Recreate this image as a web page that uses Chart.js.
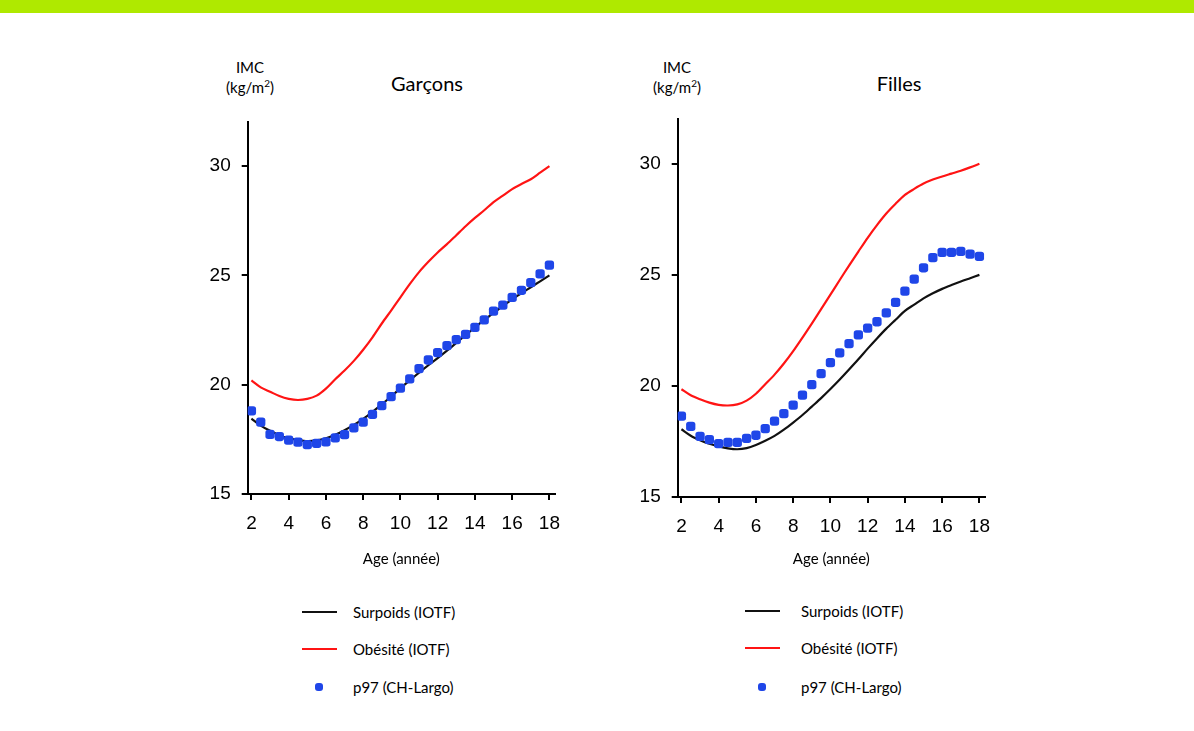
<!DOCTYPE html>
<html lang="fr">
<head>
<meta charset="utf-8">
<title>IMC - Garçons / Filles</title>
<script src="https://cdn.jsdelivr.net/npm/chart.js@4.4.1/dist/chart.umd.min.js"></script>
<style>
  body { margin: 0; width: 1194px; height: 731px; background: #fff; position: relative; overflow: hidden; font-family: Lato, "Open Sans", sans-serif; color: #000; }
  #bandeau { position: absolute; left: 0; top: 0; width: 1194px; height: 13px; background: #afe900; }
  canvas { position: absolute; }
  .imc { position: absolute; width: 80px; text-align: center; font-size: 15px; line-height: 20px; }
  .titre { position: absolute; font-size: 20px; line-height: 24px; transform: translateX(-50%); white-space: nowrap; }
  .legende { position: absolute; font-size: 15px; }
  .item { position: absolute; left: 0; height: 20px; white-space: nowrap; }
  .item span.txt { position: absolute; top: 0; line-height: 20px; }
  .item span.mk { position: absolute; }
</style>
</head>
<body>
<div id="bandeau"></div>

<div class="imc" style="left:210px; top:57px;">IMC<br>(kg/m<sup style="font-size:10px; line-height:0;">2</sup>)</div>
<div class="titre" style="left:427px; top:71px;">Garçons</div>
<canvas id="garcons" width="385" height="472" style="left:180px; top:100px;"></canvas>
<div class="legende" id="leg_garcons" style="left:302px; top:0;"></div>

<div class="imc" style="left:637px; top:57px;">IMC<br>(kg/m<sup style="font-size:10px; line-height:0;">2</sup>)</div>
<div class="titre" style="left:899px; top:71px;">Filles</div>
<canvas id="filles" width="385" height="475" style="left:610px; top:97px;"></canvas>
<div class="legende" id="leg_filles" style="left:745px; top:0;"></div>

<script>
// ages (années), pas de 6 mois
var ages = [2, 2.5, 3, 3.5, 4, 4.5, 5, 5.5, 6, 6.5, 7, 7.5, 8, 8.5, 9, 9.5, 10,
            10.5, 11, 11.5, 12, 12.5, 13, 13.5, 14, 14.5, 15, 15.5, 16, 16.5, 17, 17.5, 18];
var xTicks = [2, 4, 6, 8, 10, 12, 14, 16, 18];
var yTicks = [15, 20, 25, 30];

// garçons
var garconsSurpoids = [18.45, 18.13, 17.89, 17.69, 17.55, 17.47, 17.42, 17.45, 17.55, 17.71, 17.92, 18.16, 18.44,
                       18.76, 19.10, 19.46, 19.84, 20.20, 20.55, 20.89, 21.22, 21.56, 21.91, 22.27, 22.62, 22.96,
                       23.29, 23.60, 23.90, 24.19, 24.46, 24.73, 25.00];
var garconsObesite = [20.20, 19.88, 19.68, 19.48, 19.35, 19.30, 19.35, 19.50, 19.82, 20.25, 20.65, 21.09, 21.60,
                      22.17, 22.80, 23.39, 24.00, 24.60, 25.15, 25.62, 26.05, 26.43, 26.84, 27.25, 27.63, 27.98,
                      28.35, 28.65, 28.95, 29.18, 29.40, 29.70, 30.00];
var garconsP97 = [18.80, 18.29, 17.73, 17.63, 17.46, 17.37, 17.26, 17.32, 17.38, 17.57, 17.72, 18.02, 18.29,
                  18.64, 19.04, 19.45, 19.84, 20.27, 20.74, 21.13, 21.47, 21.79, 22.06, 22.30, 22.62, 22.97,
                  23.37, 23.64, 23.99, 24.32, 24.67, 25.07, 25.47];

// filles
var fillesSurpoids = [18.05, 17.76, 17.56, 17.40, 17.28, 17.19, 17.15, 17.20, 17.34, 17.53, 17.75, 18.03, 18.35,
                      18.69, 19.07, 19.45, 19.86, 20.29, 20.74, 21.20, 21.68, 22.14, 22.58, 22.98, 23.38, 23.66,
                      23.94, 24.17, 24.37, 24.54, 24.70, 24.85, 25.00];
var fillesObesite = [19.85, 19.58, 19.40, 19.25, 19.15, 19.12, 19.17, 19.34, 19.65, 20.08, 20.51, 21.01, 21.57,
                     22.18, 22.81, 23.46, 24.11, 24.77, 25.42, 26.05, 26.67, 27.24, 27.76, 28.20, 28.60, 28.87,
                     29.11, 29.29, 29.43, 29.56, 29.69, 29.84, 30.00];
var fillesP97 = [18.64, 18.18, 17.73, 17.58, 17.40, 17.46, 17.46, 17.64, 17.78, 18.08, 18.42, 18.75, 19.14,
                 19.59, 20.06, 20.55, 21.05, 21.49, 21.90, 22.30, 22.60, 22.89, 23.29, 23.76, 24.27, 24.81,
                 25.32, 25.78, 26.01, 26.01, 26.06, 25.93, 25.83];

var NOIR = '#111111';
var ROUGE = '#ff1414';
var BLEU = '#1f46e8';

function points(valeurs){
  return ages.map(function(a, i){ return {x: a, y: valeurs[i]}; });
}

function makeChart(id, surpoids, obesite, p97, xHeight){
  var axe = {
    grid: {drawOnChartArea: false, color: '#000', lineWidth: 2, tickLength: 6},
    border: {color: '#000', width: 2}
  };
  return new Chart(document.getElementById(id), {
    type: 'line',
    data: {
      datasets: [
        {label: 'Surpoids (IOTF)', data: points(surpoids), borderColor: NOIR, borderWidth: 2.2,
         pointRadius: 0, tension: 0.3, order: 2},
        {label: 'Obésité (IOTF)', data: points(obesite), borderColor: ROUGE, borderWidth: 2.2,
         pointRadius: 0, tension: 0.3, order: 1},
        {label: 'p97 (CH-Largo)', data: points(p97), showLine: false, pointStyle: 'rectRounded',
         pointRadius: 5.4, backgroundColor: BLEU, borderColor: BLEU, borderWidth: 0, order: 0}
      ]
    },
    options: {
      responsive: false,
      animation: false,
      layout: {padding: {top: 0, right: 10, left: 0, bottom: 0}},
      plugins: {legend: {display: false}, tooltip: {enabled: false}},
      scales: {
        x: Object.assign({
          type: 'linear', min: 1.8, max: 18.3,
          afterBuildTicks: function(s){ s.ticks = xTicks.map(function(v){ return {value: v}; }); },
          afterFit: function(s){ s.height = xHeight; s.paddingLeft = 0; s.paddingRight = 0; },
          ticks: {font: {family: 'Liberation Sans', size: 19}, color: '#000', padding: 12, maxRotation: 0},
          title: {display: true, text: 'Age (année)', font: {family: 'Lato', size: 15}, color: '#000',
                  padding: {top: 0, bottom: 4}}
        }, axe),
        y: Object.assign({
          type: 'linear', min: 15, max: 32,
          afterBuildTicks: function(s){ s.ticks = yTicks.map(function(v){ return {value: v}; }); },
          afterFit: function(s){ s.width = 67.7; },
          ticks: {font: {family: 'Liberation Sans', size: 19}, color: '#000', padding: 11}
        }, axe)
      }
    }
  });
}

// légende en html, construite depuis les datasets
function legende(chart, id, txtLeft, rows){
  var box = document.getElementById(id);
  chart.data.datasets.forEach(function(ds, i){
    var item = document.createElement('div');
    item.className = 'item';
    item.style.top = (rows[i] - 10) + 'px';
    var mk = document.createElement('span');
    mk.className = 'mk';
    if (ds.showLine === false) {
      mk.style.left = '13px'; mk.style.top = '6px';
      mk.style.width = '8px'; mk.style.height = '8px';
      mk.style.borderRadius = '3px';
      mk.style.background = ds.backgroundColor;
    } else {
      mk.style.left = '0px'; mk.style.top = '9px';
      mk.style.width = '35px'; mk.style.height = '2px';
      mk.style.background = ds.borderColor;
    }
    var txt = document.createElement('span');
    txt.className = 'txt';
    txt.style.left = txtLeft + 'px';
    txt.textContent = ds.label;
    item.appendChild(mk);
    item.appendChild(txt);
    box.appendChild(item);
  });
}

var chartG = makeChart('garcons', garconsSurpoids, garconsObesite, garconsP97, 78);
var chartF = makeChart('filles', fillesSurpoids, fillesObesite, fillesP97, 75);
legende(chartG, 'leg_garcons', 51, [612, 649, 687]);
legende(chartF, 'leg_filles', 56, [611, 648, 687]);
</script>
</body>
</html>
